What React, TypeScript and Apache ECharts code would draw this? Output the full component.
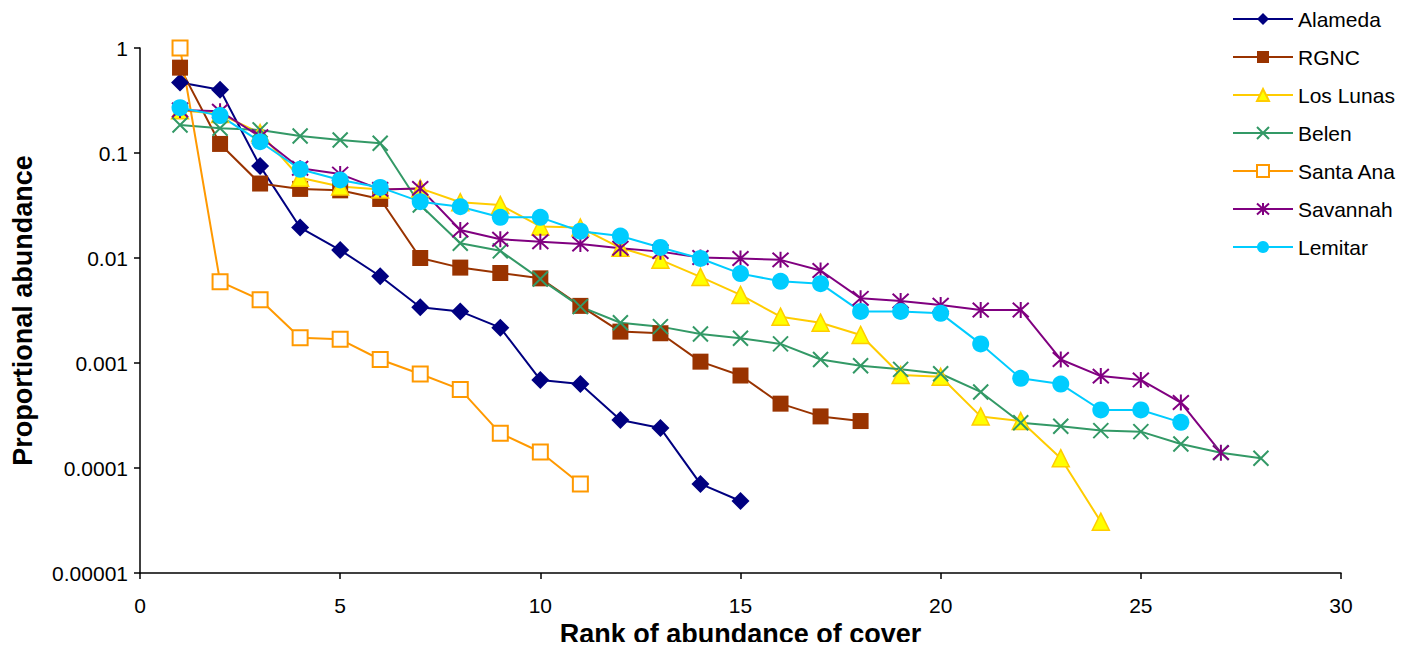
import React, { useEffect, useRef } from "react";
import * as echarts from "echarts";

const seriesNames = ["Alameda", "RGNC", "Los Lunas", "Belen", "Santa Ana", "Savannah", "Lemitar"];

const alameda = [0.47, 0.40, 0.075, 0.0195, 0.0119, 0.0067, 0.0034, 0.0031, 0.00217, 0.00069, 0.00063, 0.000286, 0.00024, 0.0000705, 0.0000485];
const rgnc = [0.65, 0.122, 0.0512, 0.0455, 0.0441, 0.0365, 0.0100, 0.0081, 0.0072, 0.0064, 0.0035, 0.00199, 0.00192, 0.00103, 0.00076, 0.00041, 0.00031, 0.00028];
const losLunas = [0.255, 0.235, 0.155, 0.058, 0.048, 0.045, 0.046, 0.034, 0.032, 0.020, 0.0195, 0.0125, 0.0096, 0.0066, 0.00445, 0.00276, 0.00242, 0.00185, 0.00077, 0.00074, 0.00031, 0.00028, 0.000124, 0.0000308];
const belen = [0.185, 0.172, 0.166, 0.145, 0.133, 0.124, 0.032, 0.0138, 0.0117, 0.0063, 0.00344, 0.00242, 0.00222, 0.00189, 0.00172, 0.00152, 0.00108, 0.00094, 0.00087, 0.00079, 0.00053, 0.00027, 0.00025, 0.000227, 0.000222, 0.000169, 0.00014, 0.000124];
const santaAna = [1.0, 0.00595, 0.0040, 0.00174, 0.00168, 0.00108, 0.000785, 0.00056, 0.000214, 0.000142, 0.0000704];
const savannah = [0.257, 0.25, 0.143, 0.0715, 0.063, 0.045, 0.046, 0.0185, 0.0151, 0.0143, 0.0136, 0.0124, 0.0115, 0.0101, 0.0099, 0.0096, 0.0076, 0.00413, 0.0039, 0.00356, 0.0032, 0.0032, 0.00108, 0.00075, 0.00069, 0.00042, 0.00014];
const lemitar = [0.27, 0.227, 0.128, 0.070, 0.0553, 0.047, 0.0344, 0.0308, 0.0244, 0.0244, 0.018, 0.0162, 0.0126, 0.0099, 0.0071, 0.0060, 0.0057, 0.0031, 0.0031, 0.00297, 0.00152, 0.000715, 0.00063, 0.000357, 0.000357, 0.000272];

const yTickLabels = ["0.00001", "0.0001", "0.001", "0.01", "0.1", "1"];

const FONT = 'Arial, "Liberation Sans", sans-serif';
const XPATH = "path://M0,0L10,10M10,0L0,10";
const STARPATH = "path://M5,0L5,10M0.5,0.5L9.5,9.5M9.5,0.5L0.5,9.5";

const toPts = (arr: number[]) => arr.map((v, i) => [i + 1, v]);

export default function App() {
  const ref = useRef<HTMLDivElement>(null);
  useEffect(() => {
    if (!ref.current) return;
    const chart = echarts.init(ref.current, null, { renderer: "svg" });
    const mk = (
      name: string,
      data: number[],
      line: string,
      symbol: string,
      size: number,
      item: any
    ) => ({
      name,
      type: "line",
      data: toPts(data),
      symbol,
      symbolSize: size,
      showAllSymbol: true,
      lineStyle: { color: line, width: 2 },
      itemStyle: item,
      emphasis: { disabled: true },
    });
    chart.setOption({
      animation: false,
      backgroundColor: "#ffffff",
      grid: { left: 132, right: 67, top: 40, bottom: 77, outerBoundsMode: "none", containLabel: false },
      legend: {
        orient: "vertical",
        left: 1224,
        top: 0,
        padding: 0,
        itemWidth: 60,
        itemHeight: 15,
        itemGap: 16,
        textStyle: { fontFamily: FONT, fontSize: 21, color: "#000", lineHeight: 22 },
        data: seriesNames,
      },
      xAxis: {
        type: "value",
        min: 0,
        max: 30,
        interval: 5,
        name: "Rank of abundance of cover",
        nameLocation: "middle",
        nameGap: 46,
        nameTextStyle: { fontFamily: FONT, fontSize: 27, fontWeight: "bold", color: "#000" },
        axisLine: { show: true, onZero: false, lineStyle: { color: "#000", width: 1.5 } },
        axisTick: { show: true, inside: false, length: 6, lineStyle: { color: "#000", width: 1.5 } },
        axisLabel: { fontFamily: FONT, fontSize: 21, color: "#000", margin: 22 },
        splitLine: { show: false },
      },
      yAxis: {
        type: "log",
        logBase: 10,
        min: 0.00001,
        max: 1,
        name: "Proportional abundance",
        nameLocation: "middle",
        nameGap: 104,
        nameTextStyle: { fontFamily: FONT, fontSize: 27, fontWeight: "bold", color: "#000" },
        axisLine: { show: true, lineStyle: { color: "#000", width: 1.5 } },
        axisTick: { show: true, inside: false, length: 6, lineStyle: { color: "#000", width: 1.5 } },
        axisLabel: {
          fontFamily: FONT,
          fontSize: 21,
          color: "#000",
          margin: 12,
          formatter: (v: number) => {
            const idx = Math.round(Math.log10(v)) + 5;
            return yTickLabels[idx] ?? "";
          },
        },
        splitLine: { show: false },
      },
      series: [
        mk(seriesNames[0], alameda, "#000080", "diamond", 18, { color: "#000080" }),
        mk(seriesNames[1], rgnc, "#993300", "rect", 16, { color: "#993300" }),
        mk(seriesNames[2], losLunas, "#FFCC00", "triangle", 17, { color: "#FFFF00", borderColor: "#FFCC00", borderWidth: 1.5 }),
        mk(seriesNames[3], belen, "#339966", XPATH, 15, { color: "transparent", borderColor: "#339966", borderWidth: 2 }),
        mk(seriesNames[4], santaAna, "#FF9900", "rect", 15, { color: "#ffffff", borderColor: "#FF9900", borderWidth: 2 }),
        mk(seriesNames[5], savannah, "#800080", STARPATH, 16, { color: "transparent", borderColor: "#800080", borderWidth: 2 }),
        mk(seriesNames[6], lemitar, "#00CCFF", "circle", 17, { color: "#00CCFF" }),
      ],
    });
    return () => chart.dispose();
  }, []);
  return <div ref={ref} style={{ width: 1400, height: 642, marginBottom: -8 }} />;
}
